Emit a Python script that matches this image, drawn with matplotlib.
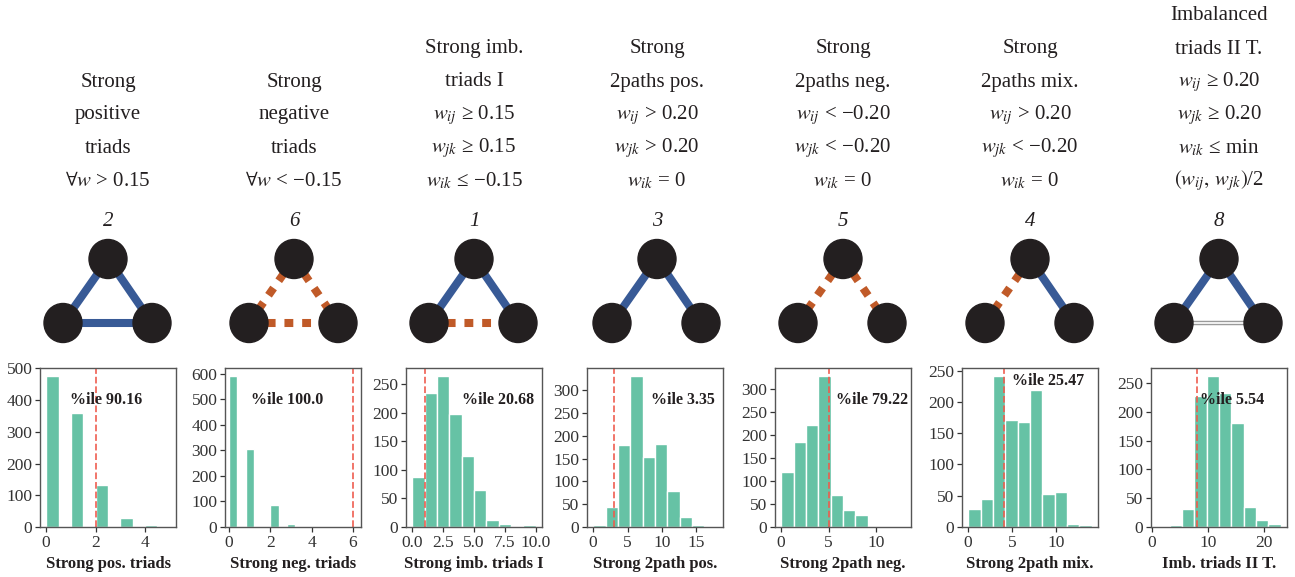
import numpy as np
import matplotlib
matplotlib.use("Agg")
import matplotlib.pyplot as plt
from matplotlib.patches import Ellipse
from matplotlib.ticker import MultipleLocator

plt.rcParams['font.family'] = ['Liberation Serif', 'DejaVu Serif']
plt.rcParams['mathtext.fontset'] = 'stix'

# ---- data ----
titles = [
    ["Strong", "positive", "triads", "$\\forall w$ > 0.15"],
    ["Strong", "negative", "triads", "$\\forall w$ < \u22120.15"],
    ["Strong imb.", "triads I", "$w_{ij}$ \u2265 0.15", "$w_{jk}$ \u2265 0.15", "$w_{ik}$ \u2264 \u22120.15"],
    ["Strong", "2paths pos.", "$w_{ij}$ > 0.20", "$w_{jk}$ > 0.20", "$w_{ik}$ = 0"],
    ["Strong", "2paths neg.", "$w_{ij}$ < \u22120.20", "$w_{jk}$ < \u22120.20", "$w_{ik}$ = 0"],
    ["Strong", "2paths mix.", "$w_{ij}$ > 0.20", "$w_{jk}$ < \u22120.20", "$w_{ik}$ = 0"],
    ["Imbalanced", "triads II T.", "$w_{ij}$ \u2265 0.20", "$w_{jk}$ \u2265 0.20", "$w_{ik}$ \u2264 min",
     r"$\left(w_{ij},\, w_{jk}\right)$/2"],
]
triad_ids = ["2", "6", "1", "3", "5", "4", "8"]
# edge types: (top-left, top-right, bottom) ; p = positive, n = negative, w = weak, None = absent
edge_types = [
    ("p", "p", "p"),
    ("n", "n", "n"),
    ("p", "p", "n"),
    ("p", "p", None),
    ("n", "n", None),
    ("n", "p", None),
    ("p", "p", "w"),
]
xlabels = ["Strong pos. triads", "Strong neg. triads", "Strong imb. triads I",
           "Strong 2path pos.", "Strong 2path neg.", "Strong 2path mix.", "Imb. triads II T."]

hist_range = [(0, 5), (0, 4), (0, 10), (0, 18), (0, 13), (0, 14), (1, 23)]
counts_pos = [477, 0, 358, 0, 131, 0, 29, 0, 6, 0]
counts_neg = [592, 0, 305, 0, 0, 87, 0, 12, 0, 1]
counts_imb = [88, 234, 265, 197, 124, 65, 13, 5, 2, 3]
counts_2pos = [4, 44, 180, 332, 154, 182, 79, 22, 5, 1]
counts_2neg = [120, 185, 222, 330, 69, 36, 26, 0, 0, 1]
counts_2mix = [28, 45, 242, 171, 168, 219, 52, 56, 5, 3]
counts_imb2 = [1, 3, 31, 227, 263, 232, 181, 35, 13, 5]
all_counts = [counts_pos, counts_neg, counts_imb, counts_2pos, counts_2neg, counts_2mix, counts_imb2]

observed = [2, 6, 1, 3, 5, 4, 8]
pct_labels = ["%ile 90.16", "%ile 100.0", "%ile 20.68", "%ile 3.35", "%ile 79.22", "%ile 25.47", "%ile 5.54"]

xticks = [[0, 2, 4], [0, 2, 4, 6], [0, 2.5, 5, 7.5, 10], [0, 5, 10, 15], [0, 5, 10], [0, 5, 10], [0, 10, 20]]
xtick_fmt = ["{:g}", "{:g}", "{:.1f}", "{:g}", "{:g}", "{:g}", "{:g}"]
ytick_step = [100, 100, 50, 50, 50, 50, 50]

# ---- layout (pixels) ----
W, H = 1295, 577
ax_left = [40, 225, 406, 587, 775, 962, 1151]
ax_w, ax_top, ax_bot = 136, 368, 527
centers = [108, 294, 474, 657, 843, 1030, 1219]
text_pos = [(0.22, 0.80), (0.19, 0.80), (0.41, 0.80), (0.47, 0.80), (0.45, 0.80), (0.37, 0.92), (0.36, 0.80)]
xlims = [None, (-0.2, 6.4), None, None, None, None, None]

bar_color = '#66c2a5'
line_color = '#ef5a4c'
pos_color = '#385a96'
neg_color = '#c05a28'
node_color = '#231f20'

fig = plt.figure(figsize=(W / 100, H / 100), dpi=100)

for i in range(7):
    cx = centers[i]
    # title lines, bottom-aligned
    lines = titles[i]
    n = len(lines)
    for j, s in enumerate(lines):
        py = 181 - 33 * (n - 1 - j)
        fig.text(cx / W, 1 - py / H, s, ha='center', va='center', fontsize=15, color='#231f20')
    fig.text(cx / W, 1 - 221 / H, triad_ids[i], ha='center', va='center', fontsize=15,
             style='italic', color='#231f20')

    # triad drawing
    tax = fig.add_axes([(cx - 70) / W, (H - 350) / H, 140 / W, 120 / H])
    tax.set_xlim(-70, 70)
    tax.set_ylim(350, 230)
    tax.axis('off')
    top, bl, br = (0, 259), (-45, 323), (44, 323)
    pairs = [(top, bl), (top, br), (bl, br)]
    for (a, b), et in zip(pairs, edge_types[i]):
        if et is None:
            continue
        xs, ys = [a[0], b[0]], [a[1], b[1]]
        if et == 'p':
            tax.plot(xs, ys, color=pos_color, lw=5.8, solid_capstyle='butt', zorder=1)
        elif et == 'n':
            tax.plot(xs, ys, color=neg_color, lw=5.8, dashes=(1.1, 1.1), dash_capstyle='butt', zorder=1)
        else:
            tax.plot(xs, ys, color='#9a9a9a', lw=3.2, solid_capstyle='butt', zorder=1)
            tax.plot(xs, ys, color='white', lw=1.2, solid_capstyle='butt', zorder=1.5)
    for (nx, ny) in (top, bl, br):
        tax.add_patch(Ellipse((nx, ny), 38, 39, color=node_color, zorder=3))

    # histogram
    ax = fig.add_axes([ax_left[i] / W, (H - ax_bot) / H, ax_w / W, (ax_bot - ax_top) / H])
    lo, hi = hist_range[i]
    edges = np.linspace(lo, hi, 11)
    ax.hist(edges[:-1], bins=edges, weights=all_counts[i], color=bar_color,
            edgecolor='white', linewidth=1.0)
    ax.axvline(observed[i], color=line_color, ls='--', lw=1.3, alpha=0.9)
    if xlims[i] is not None:
        ax.set_xlim(*xlims[i])
    ax.set_xticks(xticks[i])
    ax.set_xticklabels([xtick_fmt[i].format(v) for v in xticks[i]])
    ax.yaxis.set_major_locator(MultipleLocator(ytick_step[i]))
    ax.text(text_pos[i][0], text_pos[i][1], pct_labels[i], transform=ax.transAxes,
            ha='left', va='center', fontsize=11.5, fontweight='bold', color='#231f20')
    ax.set_xlabel(xlabels[i], fontsize=12, fontweight='bold', color='#231f20', labelpad=4)
    ax.tick_params(labelsize=12.5, colors='#333333', length=3.5, width=0.9, pad=2)
    for sp in ax.spines.values():
        sp.set_color('#555555')
        sp.set_linewidth(1.0)

fig.savefig('out.png', dpi=100)
